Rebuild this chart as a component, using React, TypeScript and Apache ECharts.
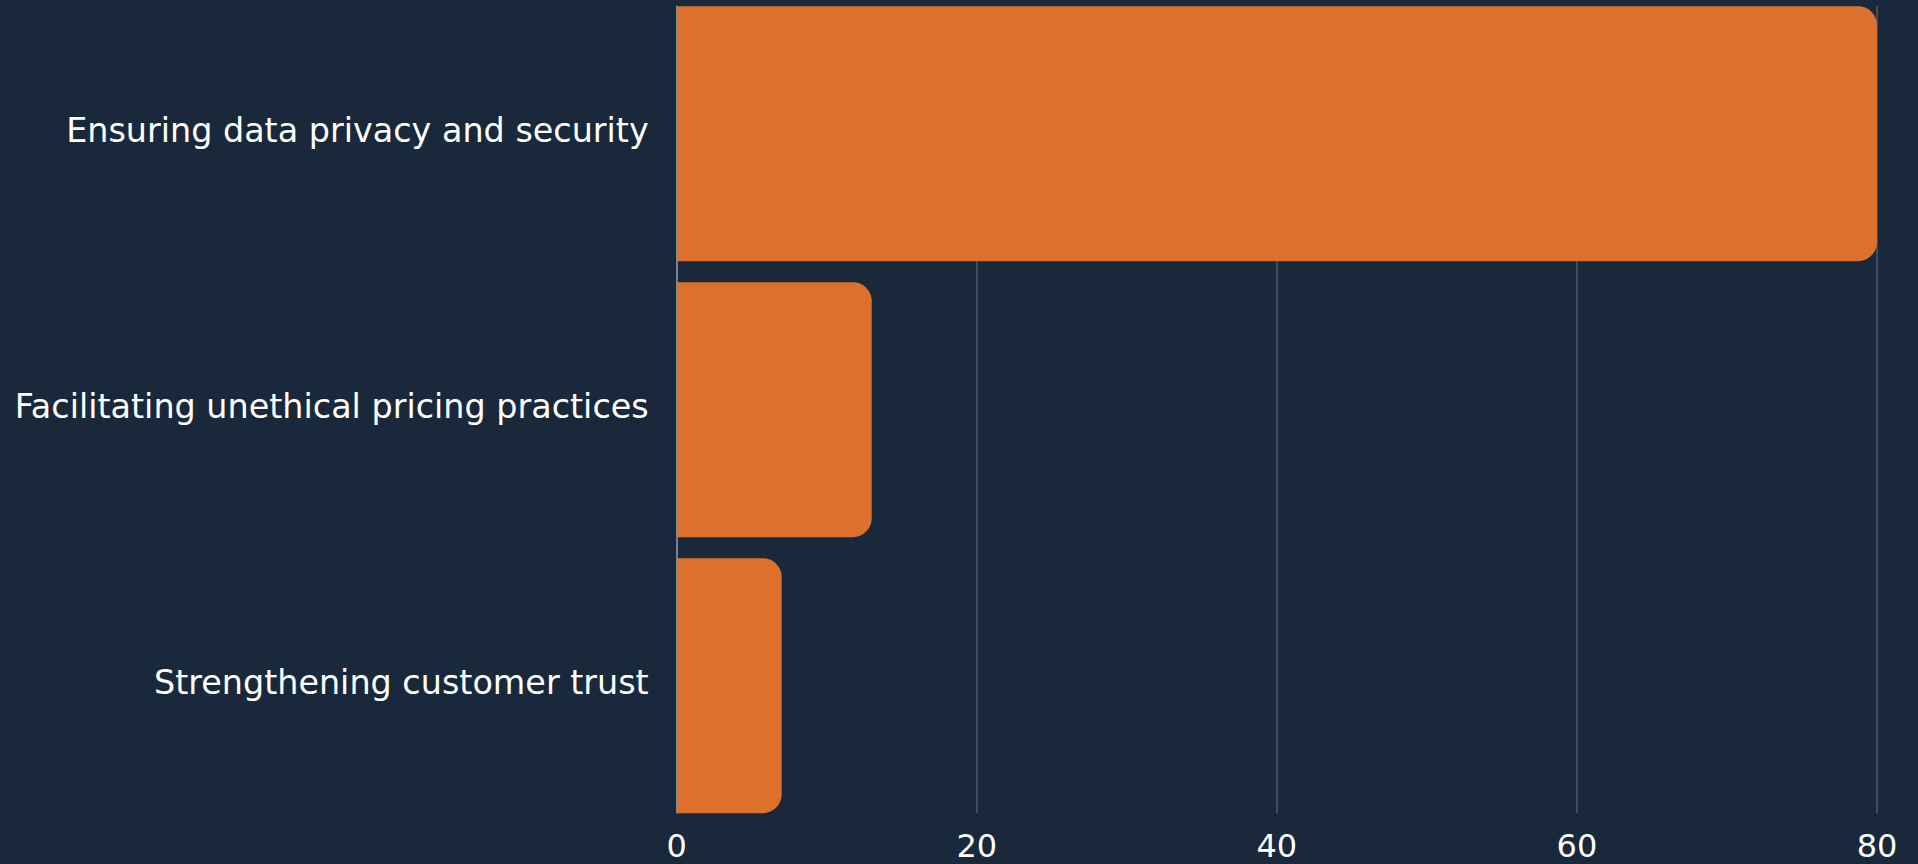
import React, { useEffect, useRef } from "react";
import * as echarts from "echarts";

const categories = [
  "Ensuring data privacy and security",
  "Facilitating unethical pricing practices",
  "Strengthening customer trust",
];
const values = [80, 13, 7];
const xTicks = { min: 0, max: 80, interval: 20 };

const BG = "#1a283b";
const BAR = "#dd702c";
const FONT = "DejaVu Sans";
const SHIFT = 20;

export default function App() {
  const ref = useRef<HTMLDivElement>(null);
  useEffect(() => {
    if (!ref.current) return;
    const chart = echarts.init(ref.current, undefined, { renderer: "svg" });
    chart.setOption({
      animation: false,
      backgroundColor: BG,
      grid: [
        { left: 676.7, right: 41, top: SHIFT - 4.35, height: 828, containLabel: false },
        { left: 676.7, right: 41, top: SHIFT + 6, height: 807, containLabel: false },
        { left: 676.7, right: 41, top: SHIFT - 8, height: 828, containLabel: false },
      ],
      xAxis: [
        {
          gridIndex: 0,
          type: "value",
          min: xTicks.min,
          max: xTicks.max,
          interval: xTicks.interval,
          show: false,
        },
        {
          gridIndex: 1,
          type: "value",
          min: xTicks.min,
          max: xTicks.max,
          interval: xTicks.interval,
          axisLine: { show: false },
          axisTick: { show: false },
          splitLine: { show: true, lineStyle: { color: "#4c5a6d", width: 1.5 } },
          axisLabel: {
            color: "#ffffff",
            fontFamily: FONT,
            fontSize: 32,
            margin: 17,
          },
        },
        {
          gridIndex: 2,
          type: "value",
          min: xTicks.min,
          max: xTicks.max,
          interval: xTicks.interval,
          show: false,
        },
      ],
      yAxis: [
        {
          gridIndex: 0,
          type: "category",
          data: categories,
          inverse: true,
          show: false,
        },
        {
          gridIndex: 1,
          type: "category",
          data: categories,
          inverse: true,
          z: 5,
          axisLine: { show: true, lineStyle: { color: "#8592a3", width: 1.5 } },
          axisTick: { show: false },
          splitLine: { show: false },
          axisLabel: { show: false },
        },
        {
          gridIndex: 2,
          type: "category",
          data: categories,
          inverse: true,
          axisLine: { show: false },
          axisTick: { show: false },
          splitLine: { show: false },
          axisLabel: {
            color: "#ffffff",
            fontFamily: FONT,
            fontSize: 33.4,
            margin: 28,
          },
        },
      ],
      series: [
        {
          type: "bar",
          xAxisIndex: 0,
          yAxisIndex: 0,
          data: values,
          barWidth: 255,
          itemStyle: {
            color: BAR,
            borderRadius: [0, 19, 19, 0],
          },
          z: 3,
        },
      ],
    });
    return () => chart.dispose();
  }, []);
  return (
    <div
      ref={ref}
      style={{ position: "fixed", left: 0, top: -SHIFT, width: 1918, height: 864 + SHIFT }}
    />
  );
}
